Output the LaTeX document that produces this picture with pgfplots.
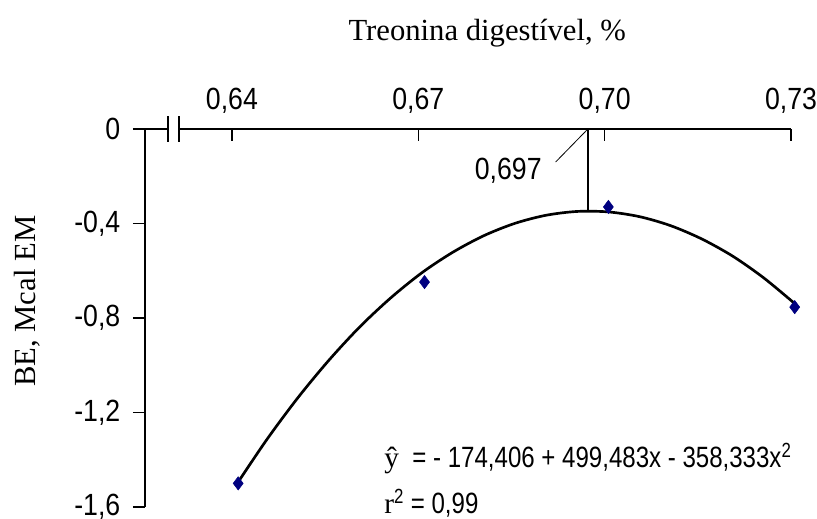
\documentclass[border=0pt]{standalone}
\usepackage{fontspec}
\setmainfont{Liberation Serif}
\newfontfamily\tickfont[FakeStretch=0.87]{Liberation Sans}
\newfontfamily\eqfont[FakeStretch=0.82]{Liberation Sans}
\usepackage{pgfplots}
\pgfplotsset{compat=1.18}
\definecolor{navy}{RGB}{0,0,128}
\begin{document}
\begin{tikzpicture}
\begin{axis}[name=ax, scale only axis, width=484.5pt, height=283.5pt,
  xmin=0.626, xmax=0.73, ymin=-1.6, ymax=0,
  axis x line=top, axis y line=left,
  axis line style={-, line width=1.2pt},
  xtick={0.64,0.67,0.70,0.73}, xticklabels={{0,64},{0,67},{0,70},{0,73}},
  ytick={-1.6,-1.2,-0.8,-0.4,0}, yticklabels={{-1,6},{-1,2},{-0,8},{-0,4},0},
  xtick align=inside, ytick align=outside,
  major tick length=9pt,
  tick style={line width=1.2pt, black},
  ticklabel style={font=\tickfont\fontsize{23}{27}\selectfont},
  xticklabel style={yshift=8pt},
  yticklabel style={xshift=-6pt},
  clip=false]
\addplot[smooth, line width=2pt, black] coordinates {
(0.6406,-1.510) (0.6456,-1.315) (0.6506,-1.138) (0.6556,-0.979) (0.6606,-0.837)
(0.6656,-0.714) (0.6706,-0.608) (0.6756,-0.521) (0.6806,-0.451) (0.6856,-0.399)
(0.6906,-0.365) (0.6956,-0.349) (0.7006,-0.351) (0.7056,-0.371) (0.7106,-0.409)
(0.7156,-0.465) (0.7206,-0.538) (0.7256,-0.630) (0.7306,-0.739)};
\addplot[only marks, mark=diamond*, mark size=5pt, navy] coordinates {
(0.641,-1.50) (0.671,-0.648) (0.7006,-0.33) (0.7306,-0.754)};
\addplot[black, line width=1.2pt] coordinates {(0.6973,0) (0.6973,-0.348)};
\addplot[black, line width=0.6pt] coordinates {(0.6921,-0.140) (0.6973,0)};
\fill[white] (axis cs:0.62985,-0.03) rectangle (axis cs:0.63137,0.03);
\draw[line width=1.2pt] (axis cs:0.62973,-0.055) -- (axis cs:0.62973,0.055);
\draw[line width=1.2pt] (axis cs:0.63149,-0.055) -- (axis cs:0.63149,0.055);
\node[anchor=east, inner sep=0pt, font=\tickfont\fontsize{23}{27}\selectfont] at (axis cs:0.6899,-0.178) {0,697};
\node[yshift=72pt, font=\fontsize{23}{27}\selectfont] at (axis cs:0.6811,0) {Treonina digest\'ivel, \%};
\node[rotate=90, font=\fontsize{23}{27}\selectfont] at (axis cs:0.6071,-0.729) {BE, Mcal EM};
\node[anchor=base west, inner sep=0pt, font=\eqfont\fontsize{22}{26}\selectfont] at (axis cs:0.6645,-1.432)
  {{\rmfamily\^{y}}\ \ = - 174,406 + 499,483x - 358,333x\textsuperscript{2}};
\node[anchor=base west, inner sep=0pt, font=\eqfont\fontsize{22}{26}\selectfont] at (axis cs:0.6645,-1.627)
  {{\rmfamily r}\textsuperscript{2} = 0,99};
\end{axis}
\pgfresetboundingbox
\path[use as bounding box] ([xshift=-108.75pt,yshift=-9pt]ax.south west) rectangle ([xshift=19.5pt,yshift=96.75pt]ax.north east);
\end{tikzpicture}
\end{document}
